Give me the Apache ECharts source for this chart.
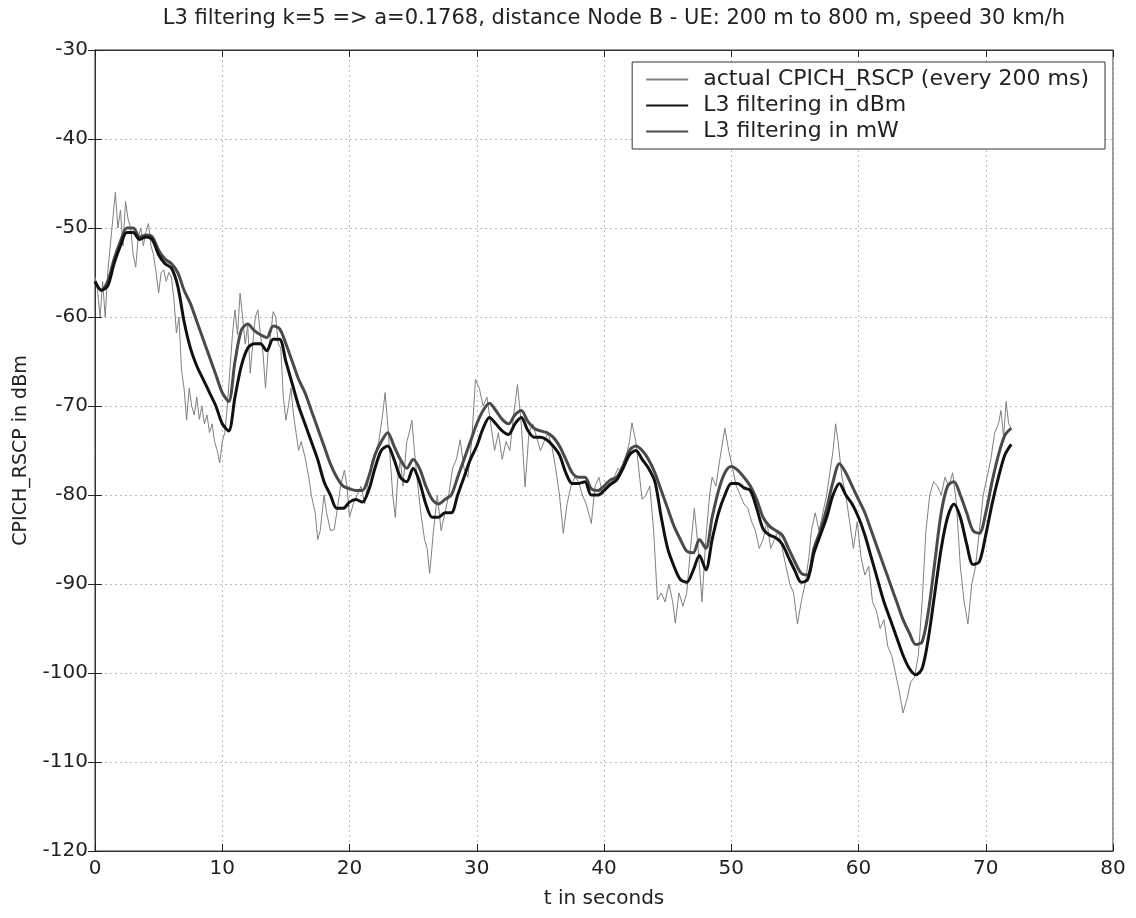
<!DOCTYPE html>
<html>
<head>
<meta charset="utf-8">
<script src="https://cdn.jsdelivr.net/npm/echarts@6/dist/echarts.min.js"></script>
<style>
html,body{margin:0;padding:0;background:#fff;}
#chart{width:1136px;height:918px;}
</style>
</head>
<body>
<div id="chart"></div>
<script>
// ---- data ----
const titleText = 'L3 filtering k=5 => a=0.1768, distance Node B - UE: 200 m to 800 m, speed 30 km/h';
const seriesNames = ['actual CPICH_RSCP (every 200 ms)', 'L3 filtering in dBm', 'L3 filtering in mW'];
const xTicks = [0, 10, 20, 30, 40, 50, 60, 70, 80];
const yTicks = [-120, -110, -100, -90, -80, -70, -60, -50, -40, -30];

// time stamps (s) of the filtered curves
const tFilt = [
  0,0.5,1,1.5,2,2.5,3,3.5,4,4.5, 5,5.5,6,6.5,7,7.5,8,8.5,9,9.5,
  10,10.5,11,11.5,12,12.5,13,13.5,14,14.5, 15,15.5,16,16.5,17,17.5,18,18.5,19,19.5,
  20,20.5,21,21.5,22,22.5,23,23.5,24,24.5, 25,25.5,26,26.5,27,27.5,28,28.5,29,29.5,
  30,30.5,31,31.5,32,32.5,33,33.5,34,34.5, 35,35.5,36,36.5,37,37.5,38,38.5,39,39.5,
  40,40.5,41,41.5,42,42.5,43,43.5,44,44.5, 45,45.5,46,46.5,47,47.5,48,48.5,49,49.5,
  50,50.5,51,51.5,52,52.5,53,53.5,54,54.5, 55,55.5,56,56.5,57,57.5,58,58.5,59,59.5,
  60,60.5,61,61.5,62,62.5,63,63.5,64,64.5, 65,65.5,66,66.5,67,67.5,68,68.5,69,69.5,
  70,70.5,71,71.5,72
];

const l3dBm = [
  -56,-57,-56.5,-54,-52,-50.5,-50.5,-51.3,-51,-51.3,
  -53,-54,-54.5,-56.5,-60.5,-63.5,-65.5,-67,-68.5,-70,
  -72,-72.8,-69,-65.5,-63.5,-63,-63,-63.8,-62.5,-62.5,
  -65,-67.5,-70,-72,-74,-76,-78.5,-80,-81.5,-81.5,
  -80.8,-80.5,-80.8,-79.5,-77,-75,-74.5,-76,-78,-78.5,
  -77,-78.5,-81,-82.5,-82.5,-82,-82,-80,-78,-76,
  -74.5,-72.5,-71.3,-72,-72.8,-73.2,-72,-71.3,-72.7,-73.5,
  -73.5,-73.8,-74.5,-75.5,-77.5,-78.7,-78.7,-78.5,-80,-80,
  -79.5,-78.8,-78.3,-77,-75.5,-75,-76,-77,-78.5,-82.5,
  -86,-88,-89.5,-89.8,-88.5,-86.8,-88.4,-85,-82,-80,
  -78.7,-78.7,-79.2,-79.5,-81.5,-83.8,-84.5,-84.8,-85.5,-87,
  -88.5,-89.8,-89.5,-86.5,-84.5,-82.5,-80,-78.7,-80,-81,
  -82.5,-84.5,-87,-89.5,-92,-94,-96,-98,-99.5,-100.2,
  -99.5,-96,-91,-86,-82.5,-81,-82.5,-85.5,-87.8,-87.5,
  -84.5,-81,-78,-75.5,-74.3
];

const l3mW = [
  -56,-57,-56,-53.5,-51.5,-50,-50,-51,-50.8,-51,
  -52.5,-53.5,-54,-55,-57,-58.5,-60.5,-62.5,-64.5,-66.5,
  -68.5,-69.5,-65,-61.5,-60.8,-61.5,-62,-62.3,-61,-61.3,
  -63,-65,-67,-68.5,-70.5,-72.5,-74.5,-76.5,-78,-79,
  -79.3,-79.5,-79.5,-78,-75.5,-74,-73,-74.5,-76,-77,
  -76,-77,-79,-80.5,-81,-80.5,-80,-78,-76,-74,
  -72,-70.5,-69.7,-70.5,-71.5,-72,-71,-70.5,-71.7,-72.5,
  -72.8,-73,-73.5,-74.5,-76,-77.5,-78,-78,-79.3,-79.5,
  -79,-78.3,-78,-76.7,-75,-74.5,-75,-76,-77.5,-79.5,
  -81.5,-83.5,-85,-86.3,-86.5,-85,-86,-82.5,-79.5,-77.5,
  -76.8,-77.2,-78,-79,-80.5,-82.5,-83.5,-84,-84.5,-86,
  -87.5,-88.8,-89,-86,-84,-81.5,-78.5,-76.5,-77.5,-79,
  -80.5,-82,-84,-86,-88,-90,-92,-94,-95.5,-96.8,
  -96.5,-93,-87.5,-82,-79,-78.5,-80,-82,-84,-84.3,
  -82,-78.5,-75.5,-73.3,-72.5
];

// raw measurements [t, dBm]
const rawRSCP = [
  [0,-55.5],[0.2,-57],[0.4,-60],[0.6,-56],[0.8,-60],[1.0,-55],[1.2,-52],[1.4,-49],[1.6,-46],[1.8,-50],
  [2.0,-48],[2.2,-52],[2.4,-47],[2.6,-49],[2.8,-50],[3.0,-53],[3.2,-54.4],[3.4,-51],[3.6,-50],[3.8,-52],
  [4.0,-50.5],[4.2,-49.5],[4.4,-52],[4.6,-53],[4.8,-55],[5.0,-57.3],[5.2,-55],[5.4,-54.7],[5.6,-56],[5.8,-55],
  [6.0,-55.5],[6.2,-58],[6.4,-61.8],[6.6,-60],[6.8,-66],[7.0,-68],[7.2,-71.6],[7.4,-68],[7.6,-70],[7.8,-71],
  [8.0,-69],[8.2,-71.5],[8.4,-70],[8.6,-72],[8.8,-71],[9.0,-73],[9.2,-72],[9.4,-74],[9.6,-75],[9.8,-76.4],
  [10.0,-74],[10.2,-73],[10.4,-70],[10.6,-66],[10.8,-62],[11.0,-59.2],[11.2,-62],[11.4,-57.3],[11.6,-60],[11.8,-63],
  [12.0,-61],[12.2,-66.3],[12.4,-63],[12.6,-60],[12.8,-59.2],[13.0,-62],[13.2,-64],[13.4,-68],[13.6,-64],[13.8,-62],
  [14.0,-59.4],[14.2,-60],[14.4,-63],[14.6,-63.5],[14.8,-69],[15.0,-71.6],[15.2,-70],[15.4,-68],[15.6,-71],[15.8,-73],
  [16.0,-75],[16.2,-74],[16.5,-75.7],[16.8,-78],[17.0,-80],[17.3,-82],[17.5,-85],[17.7,-84],[18.0,-80],[18.2,-82],
  [18.5,-84],[18.8,-83.9],[19.0,-82],[19.3,-79],[19.6,-77.2],[19.8,-79],[20.0,-82.5],[20.3,-81],[20.6,-80],[20.9,-79],
  [21.2,-81],[21.5,-78],[21.8,-76],[22.0,-75.5],[22.3,-74],[22.6,-71],[22.8,-68.5],[23.0,-72],[23.2,-76],[23.4,-80],
  [23.6,-82.5],[23.8,-78],[24.0,-76],[24.2,-79],[24.5,-74],[24.7,-73],[24.9,-71.6],[25.1,-75],[25.3,-78],[25.6,-82],
  [25.9,-85],[26.1,-86],[26.3,-88.8],[26.6,-84],[26.9,-80],[27.2,-84],[27.5,-82],[27.8,-80],[28.1,-77],[28.4,-76],
  [28.7,-73.8],[29.0,-77],[29.3,-78],[29.6,-74],[29.9,-67],[30.2,-68],[30.5,-70],[30.8,-69],[31.1,-72],[31.4,-75],
  [31.7,-73],[32.0,-76],[32.3,-74],[32.6,-75],[32.9,-71],[33.2,-67.6],[33.5,-72],[33.8,-79.1],[34.1,-73],[34.4,-72],
  [34.7,-73.5],[35.0,-75],[35.3,-74],[35.6,-73],[35.9,-74.5],[36.2,-77],[36.5,-80],[36.8,-84.3],[37.1,-81],[37.4,-79],
  [37.7,-78],[38.0,-78.5],[38.3,-80],[38.6,-81],[39.0,-83.2],[39.3,-79],[39.6,-78],[39.9,-80],[40.2,-78.5],[40.5,-79],
  [40.8,-78],[41.1,-77],[41.4,-77.5],[41.7,-76],[42.0,-74],[42.2,-71.9],[42.5,-74],[42.8,-78],[43.0,-80.5],[43.3,-80],
  [43.6,-79],[43.9,-84],[44.2,-91.8],[44.5,-91],[44.8,-92],[45.1,-90],[45.4,-92],[45.6,-94.4],[45.9,-91],[46.2,-92.5],
  [46.5,-91],[46.8,-86],[47.1,-81.5],[47.4,-86],[47.7,-92],[48.0,-85],[48.3,-80],[48.5,-78],[48.8,-79],[49.1,-76],
  [49.5,-72.5],[49.8,-75],[50.1,-77],[50.4,-79],[50.7,-80],[51.0,-81],[51.3,-81.5],[51.6,-83],[51.9,-84],[52.2,-86],
  [52.5,-85],[52.8,-83],[53.1,-86],[53.4,-85],[53.7,-84],[54.0,-86],[54.3,-88],[54.6,-90],[54.9,-91],[55.2,-94.5],
  [55.5,-92],[55.8,-90],[56.1,-87],[56.3,-84],[56.6,-82],[56.9,-84],[57.2,-82],[57.5,-80],[57.8,-77],[58.0,-75],
  [58.2,-72],[58.4,-74],[58.7,-78],[59.0,-80],[59.3,-83],[59.6,-86],[59.9,-83],[60.2,-87],[60.5,-89],[60.8,-88],
  [61.1,-92],[61.4,-93],[61.7,-95],[62.0,-94],[62.3,-97],[62.6,-98],[62.9,-100],[63.2,-102],[63.5,-104.5],[63.8,-103],
  [64.1,-101],[64.4,-100.5],[64.7,-98],[65.0,-92],[65.3,-84],[65.6,-80],[65.9,-78.5],[66.2,-79],[66.5,-80],[66.8,-78],
  [67.1,-79],[67.4,-77.5],[67.7,-81],[68.0,-88],[68.3,-92],[68.6,-94.5],[68.9,-90],[69.2,-88],[69.5,-84],[69.8,-80],
  [70.1,-78],[70.4,-76],[70.7,-73],[71.0,-72],[71.2,-70.5],[71.4,-73.5],[71.6,-69.5],[71.8,-72],[72.0,-72.5]
];

// ---- chart ----
const FONT = 'DejaVu Sans';
const chart = echarts.init(document.getElementById('chart'), null, {renderer: 'canvas'});
const pairs = (ts, vs) => ts.map((t, i) => [t, vs[i]]);

const gridLine = {show: true, lineStyle: {color: '#bdbdbd', type: [2, 3], width: 1}};
const tickIn = {show: true, inside: true, length: 7, lineStyle: {color: '#222'}};

chart.setOption({
  backgroundColor: '#fff',
  animation: false,
  title: {
    text: titleText,
    left: 609, textAlign: 'center', top: 3,
    textStyle: {fontFamily: FONT, fontSize: 21, fontWeight: 'normal', color: '#222'}
  },
  legend: {
    data: seriesNames,
    orient: 'vertical',
    right: 31, top: 62,
    backgroundColor: '#fff',
    borderColor: '#333', borderWidth: 1,
    padding: [6, 16, 6, 13],
    itemWidth: 42, itemHeight: 14, itemGap: 3,
    itemStyle: {opacity: 0},
    textStyle: {fontFamily: FONT, fontSize: 22, color: '#222', padding: [0, 0, 0, 10], lineHeight: 23}
  },
  grid: {left: 95, right: 23, top: 50, bottom: 67, show: true, borderColor: '#333', borderWidth: 1, backgroundColor: 'transparent'},
  xAxis: [{
    type: 'value', min: 0, max: 80, interval: 10,
    name: 't in seconds', nameLocation: 'middle', nameGap: 38,
    nameTextStyle: {fontFamily: FONT, fontSize: 20, color: '#222'},
    axisLine: {show: true, lineStyle: {color: '#333'}},
    axisTick: tickIn,
    axisLabel: {fontFamily: FONT, fontSize: 20, color: '#222', margin: 8},
    splitLine: gridLine
  }, {
    type: 'value', position: 'top', min: 0, max: 80, interval: 10,
    axisLine: {show: true, lineStyle: {color: '#333'}},
    axisTick: tickIn, axisLabel: {show: false}, splitLine: {show: false}
  }],
  yAxis: [{
    type: 'value', min: -120, max: -30, interval: 10,
    name: 'CPICH_RSCP in dBm', nameLocation: 'middle', nameGap: 64, nameRotate: 90,
    nameTextStyle: {fontFamily: FONT, fontSize: 19, color: '#222'},
    axisLine: {show: true, lineStyle: {color: '#333'}},
    axisTick: tickIn,
    axisLabel: {fontFamily: FONT, fontSize: 20, color: '#222', margin: 7},
    splitLine: gridLine
  }, {
    type: 'value', position: 'right', min: -120, max: -30, interval: 10,
    axisLine: {show: true, lineStyle: {color: '#333'}},
    axisTick: tickIn, axisLabel: {show: false}, splitLine: {show: false}
  }],
  series: [{
    name: seriesNames[0], type: 'line', data: rawRSCP,
    symbol: 'none', lineStyle: {color: '#808080', width: 1}, itemStyle: {color: '#808080'}, z: 2
  }, {
    name: seriesNames[1], type: 'line', data: pairs(tFilt, l3dBm),
    symbol: 'none', smooth: 0.3, lineStyle: {color: '#111', width: 3}, itemStyle: {color: '#111'}, z: 4
  }, {
    name: seriesNames[2], type: 'line', data: pairs(tFilt, l3mW),
    symbol: 'none', smooth: 0.3, lineStyle: {color: '#4a4a4a', width: 3}, itemStyle: {color: '#4a4a4a'}, z: 3
  }]
});
</script>
</body>
</html>
